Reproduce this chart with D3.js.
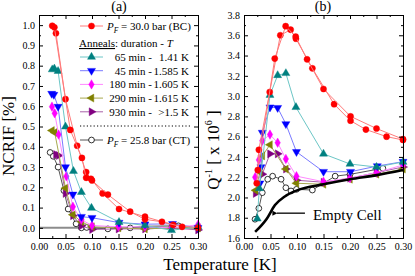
<!DOCTYPE html>
<html>
<head>
<meta charset="utf-8">
<script src="https://cdn.jsdelivr.net/npm/d3@7"></script>
<style>
  body { margin: 0; background: #fff; }
  text { font-family: "Liberation Serif", "DejaVu Serif", serif; fill: #000; }
</style>
</head>
<body>
<div id="chart"></div>
<script>
// Data: [temperature K, value]
// (a) NCRIF [%]
var ncrifBC1 = [[0.025,0.997],[0.032,0.96],[0.050,0.635],[0.072,0.405],[0.089,0.275],[0.098,0.242],[0.12,0.17],[0.151,0.093],[0.20,0.055],[0.253,0.015],[0.30,0.0]];
var ncrifBC2 = [[0.029,0.989],[0.059,0.483],[0.081,0.345],[0.089,0.247],[0.10,0.234],[0.13,0.164],[0.172,0.08],[0.20,0.042],[0.232,0.03],[0.27,0.005]];
var ncrif65  = [[0.025,0.781],[0.029,0.785],[0.036,0.773],[0.050,0.499],[0.065,0.28],[0.08,0.176],[0.099,0.098],[0.151,0.028],[0.20,0.012],[0.25,-0.012],[0.30,0.005]];
var ncrif45  = [[0.024,0.662],[0.028,0.657],[0.036,0.598],[0.050,0.30],[0.064,0.165],[0.08,0.055],[0.10,0.05],[0.151,0.026],[0.20,0.018],[0.252,0.02],[0.30,0.0]];
var ncrif180 = [[0.0245,0.598],[0.0296,0.565],[0.037,0.46],[0.0516,0.254],[0.064,0.104],[0.08,0.04],[0.10,0.012],[0.15,0.005],[0.20,0.005],[0.25,0.0],[0.30,0.015]];
var ncrif290 = [[0.0245,0.48],[0.0296,0.47],[0.05,0.196],[0.064,0.065],[0.08,0.03],[0.10,0.005],[0.15,0.0],[0.20,-0.005],[0.25,0.0],[0.30,0.0]];
var ncrif930 = [[0.032,0.362],[0.037,0.357],[0.05,0.17],[0.064,0.06],[0.08,0.01],[0.10,-0.008],[0.15,-0.005],[0.20,-0.005],[0.25,0.0],[0.30,-0.01]];
var ncrifCT  = [[0.021,0.372],[0.027,0.353],[0.036,0.30],[0.047,0.184],[0.055,0.093],[0.07,0.02],[0.08,0.0],[0.09,0.002],[0.10,0.0],[0.13,-0.005],[0.172,0.0],[0.20,0.008],[0.263,0.01]];

// (b) Q^-1 [x 10^6]
var qBC1 = [[0.024,2.14],[0.028,2.47],[0.0485,3.04],[0.0685,3.60],[0.088,3.655],[0.098,3.566],[0.129,3.274],[0.170,2.92],[0.201,2.757],[0.230,2.67],[0.269,2.60],[0.30,2.567]];
var qBC2 = [[0.026,2.27],[0.058,3.37],[0.0786,3.69],[0.0975,3.586],[0.119,3.363],[0.150,3.07],[0.201,2.80],[0.250,2.68],[0.30,2.575]];
var q65  = [[0.025,1.79],[0.029,2.09],[0.049,3.01],[0.0635,3.205],[0.079,3.225],[0.098,2.89],[0.15,2.43],[0.20,2.33],[0.25,2.30],[0.30,2.35]];
var q45  = [[0.030,2.14],[0.032,2.30],[0.0345,2.64],[0.049,2.89],[0.0635,2.885],[0.079,2.725],[0.099,2.45],[0.15,2.254],[0.201,2.254],[0.2515,2.31],[0.30,2.353]];
var q180 = [[0.021,2.20],[0.028,2.37],[0.0345,2.56],[0.049,2.62],[0.0635,2.54],[0.079,2.38],[0.099,2.21],[0.15,2.155],[0.20,2.19],[0.25,2.245],[0.30,2.32]];
var q290 = [[0.022,2.07],[0.030,2.25],[0.0345,2.41],[0.049,2.52],[0.079,2.28],[0.099,2.14],[0.15,2.13],[0.20,2.18],[0.25,2.23],[0.30,2.28]];
var q930 = [[0.022,2.04],[0.0345,2.23],[0.049,2.43],[0.0635,2.43],[0.079,2.28],[0.099,2.17],[0.15,2.15],[0.20,2.19],[0.25,2.245],[0.30,2.30]];
var qCT  = [[0.0208,1.785],[0.028,1.893],[0.0345,2.047],[0.0447,2.18],[0.054,2.21],[0.07,2.18],[0.079,2.096],[0.0887,2.064],[0.099,2.08],[0.129,2.073],[0.172,2.21],[0.20,2.228],[0.262,2.288]];
var qEmpty = [[0.021,1.66],[0.043,1.79],[0.0585,1.925],[0.077,2.01],[0.10,2.07],[0.15,2.13],[0.20,2.18],[0.25,2.22],[0.30,2.27]];

var xTicks = [0, 0.05, 0.10, 0.15, 0.20, 0.25, 0.30];
var yTicksA = [0, 0.1, 0.2, 0.3, 0.4, 0.5, 0.6, 0.7, 0.8, 0.9, 1.0];
var yTicksB = [1.6, 1.8, 2.0, 2.2, 2.4, 2.6, 2.8, 3.0, 3.2, 3.4, 3.6, 3.8];

var annealDur = ["65 min -", "45 min -", "180 min -", "290 min -", "930 min -"];
var annealT = ["1.41 K", "1.585 K", "1.605 K", "1.615 K", ">1.5 K"];

// styles
var styles = {
  BC:  {fill: "#ff0000", stroke: "#ff0000", line: "#ff7a7a", shape: "circle", rot: 0},
  a65: {fill: "#008080", stroke: "#008080", line: "#6cc6c6", shape: "tri", rot: 0},
  a45: {fill: "#0000ff", stroke: "#0000ff", line: "#7a7aff", shape: "tri", rot: 180},
  a180:{fill: "#ff00ff", stroke: "#ff00ff", line: "#ff88ff", shape: "diamond", rot: 0},
  a290:{fill: "#808000", stroke: "#808000", line: "#a8a850", shape: "tri", rot: -90},
  a930:{fill: "#800080", stroke: "#800080", line: "#a860a8", shape: "tri", rot: 90},
  CT:  {fill: "#ffffff", stroke: "#000000", line: "#555555", shape: "circle", rot: 0}
};

var W = 415, H = 276;
var svg = d3.select("#chart").append("svg").attr("width", W).attr("height", H);

var xA = d3.scaleLinear().domain([0, 0.3]).range([39, 198]);
var yA = d3.scaleLinear().domain([-0.05, 1.05]).range([238, 15]);
var xB = d3.scaleLinear().domain([0, 0.3]).range([244, 403]);
var yB = d3.scaleLinear().domain([1.6, 3.8]).range([238, 15]);

function symPath(st) {
  if (st.shape === "circle") return d3.symbol().type(d3.symbolCircle).size(st.fill === "#ffffff" ? 26 : 30)();
  if (st.shape === "diamond") return d3.symbol().type(d3.symbolDiamond).size(26)();
  return d3.symbol().type(d3.symbolTriangle).size(28)();
}

function frame(x, y, yTicks, yMinor) {
  var g = svg.append("g").attr("font-size", 11);
  var fmtX = d3.format(".2f"), fmtY = d3.format(".1f");
  var xMinor = d3.range(0.025, 0.3, 0.05);
  g.append("g").attr("transform", "translate(0," + y.range()[0] + ")")
    .call(d3.axisBottom(x).tickValues(xTicks).tickFormat(fmtX).tickSizeInner(-4).tickSizeOuter(0).tickPadding(5));
  g.append("g").attr("transform", "translate(0," + y.range()[0] + ")")
    .call(d3.axisBottom(x).tickValues(xMinor).tickFormat("").tickSizeInner(-2).tickSizeOuter(0));
  g.append("g").attr("transform", "translate(0," + y.range()[1] + ")")
    .call(d3.axisTop(x).tickValues(xTicks).tickFormat("").tickSizeInner(-4).tickSizeOuter(0));
  g.append("g").attr("transform", "translate(0," + y.range()[1] + ")")
    .call(d3.axisTop(x).tickValues(xMinor).tickFormat("").tickSizeInner(-2).tickSizeOuter(0));
  g.append("g").attr("transform", "translate(" + x.range()[0] + ",0)")
    .call(d3.axisLeft(y).tickValues(yTicks).tickFormat(fmtY).tickSizeInner(-4).tickSizeOuter(0).tickPadding(4));
  g.append("g").attr("transform", "translate(" + x.range()[0] + ",0)")
    .call(d3.axisLeft(y).tickValues(yMinor).tickFormat("").tickSizeInner(-2).tickSizeOuter(0));
  g.append("g").attr("transform", "translate(" + x.range()[1] + ",0)")
    .call(d3.axisRight(y).tickValues(yTicks).tickFormat("").tickSizeInner(-4).tickSizeOuter(0));
  g.append("g").attr("transform", "translate(" + x.range()[1] + ",0)")
    .call(d3.axisRight(y).tickValues(yMinor).tickFormat("").tickSizeInner(-2).tickSizeOuter(0));
  g.selectAll("text").attr("font-family", "Liberation Serif").attr("fill", "#000");
  g.selectAll(".domain").attr("stroke", "#000").attr("stroke-width", 1);
}

function series(x, y, data, st) {
  var line = d3.line().x(d => x(d[0])).y(d => y(d[1]));
  svg.append("path").attr("d", line(data)).attr("fill", "none")
    .attr("stroke", st.line).attr("stroke-width", 1);
  svg.append("g").selectAll("path").data(data).enter().append("path")
    .attr("d", symPath(st))
    .attr("transform", d => "translate(" + x(d[0]) + "," + y(d[1]) + ") rotate(" + st.rot + ")")
    .attr("fill", st.fill).attr("stroke", st.stroke).attr("stroke-width", st.fill === "#ffffff" ? 0.8 : 0.4);
}

// Panel (a)
svg.append("line").attr("x1", xA(0)).attr("x2", xA(0.3)).attr("y1", yA(0)).attr("y2", yA(0))
  .attr("stroke", "#8c8c8c").attr("stroke-width", 2);
series(xA, yA, ncrifCT, styles.CT);
series(xA, yA, ncrif930, styles.a930);
series(xA, yA, ncrif290, styles.a290);
series(xA, yA, ncrif180, styles.a180);
series(xA, yA, ncrif45, styles.a45);
series(xA, yA, ncrif65, styles.a65);
series(xA, yA, ncrifBC1, styles.BC);
series(xA, yA, ncrifBC2, styles.BC);
frame(xA, yA, yTicksA, d3.range(-0.05, 1.06, 0.1));

// Panel (b)
series(xB, yB, qCT, styles.CT);
series(xB, yB, q930, styles.a930);
series(xB, yB, q290, styles.a290);
series(xB, yB, q180, styles.a180);
series(xB, yB, q45, styles.a45);
series(xB, yB, q65, styles.a65);
series(xB, yB, qBC1, styles.BC);
series(xB, yB, qBC2, styles.BC);
svg.append("path")
  .attr("d", d3.line().curve(d3.curveMonotoneX).x(d => xB(d[0])).y(d => yB(d[1]))(qEmpty))
  .attr("fill", "none").attr("stroke", "#000").attr("stroke-width", 2.6);
frame(xB, yB, yTicksB, d3.range(1.7, 3.8, 0.2));

// Empty cell arrow + label
svg.append("defs").append("marker").attr("id", "ah").attr("viewBox", "0 0 10 10")
  .attr("refX", 1).attr("refY", 5).attr("markerWidth", 7).attr("markerHeight", 5)
  .attr("markerUnits", "userSpaceOnUse").attr("orient", "auto")
  .append("path").attr("d", "M10,0 L0,5 L10,10 Z").attr("fill", "#000");
svg.append("line").attr("x1", xB(0.115)).attr("x2", xB(0.062)).attr("y1", yB(1.845)).attr("y2", yB(1.845))
  .attr("stroke", "#000").attr("stroke-width", 1.3).attr("marker-end", "url(#ah)");
svg.append("text").attr("x", xB(0.130)).attr("y", yB(1.78)).attr("font-size", 15).text("Empty Cell");

// Legend in panel (a)
var leg = svg.append("g").attr("font-size", 11);
function legSample(cy, st) {
  leg.append("line").attr("x1", 80).attr("x2", 103).attr("y1", cy).attr("y2", cy)
    .attr("stroke", st.line).attr("stroke-width", 1);
  leg.append("path").attr("d", symPath(st))
    .attr("transform", "translate(91.5," + cy + ") rotate(" + st.rot + ")")
    .attr("fill", st.fill).attr("stroke", st.stroke).attr("stroke-width", st.fill === "#ffffff" ? 0.8 : 0.4);
}
function pfText(cy, rest) {
  var t = leg.append("text").attr("x", 107).attr("y", cy + 4);
  t.append("tspan").attr("font-style", "italic").text("P");
  t.append("tspan").attr("font-size", 7.5).attr("font-style", "italic").attr("dy", 3).text("F");
  t.append("tspan").attr("dy", -3).text(" = " + rest);
}
legSample(26, styles.BC);
pfText(26, "30.0 bar (BC)");
var an = leg.append("text").attr("x", 79).attr("y", 47);
an.append("tspan").attr("text-decoration", "underline").text("Anneals");
an.append("tspan").text(": duration -  ");
an.append("tspan").attr("font-style", "italic").text("T");
var annealStyles = [styles.a65, styles.a45, styles.a180, styles.a290, styles.a930];
annealStyles.forEach(function (st, i) {
  var cy = 57 + i * 13.7;
  legSample(cy, st);
  leg.append("text").attr("x", 152).attr("y", cy + 4).attr("text-anchor", "end").text(annealDur[i]);
  leg.append("text").attr("x", 189).attr("y", cy + 4).attr("text-anchor", "end").text(annealT[i]);
});
leg.append("line").attr("x1", 80).attr("x2", 190).attr("y1", 126).attr("y2", 126)
  .attr("stroke", "#000").attr("stroke-width", 1).attr("stroke-dasharray", "1.2,2.2");
legSample(140, styles.CT);
pfText(140, "25.8 bar (CT)");

// Titles and axis labels
svg.append("text").attr("x", 119).attr("y", 11).attr("text-anchor", "middle").attr("font-size", 14).text("(a)");
svg.append("text").attr("x", 323).attr("y", 11).attr("text-anchor", "middle").attr("font-size", 14).text("(b)");
svg.append("text").attr("x", 220).attr("y", 270).attr("text-anchor", "middle").attr("font-size", 17).text("Temperature [K]");
svg.append("text").attr("transform", "translate(14,136) rotate(-90)").attr("text-anchor", "middle")
  .attr("font-size", 17).text("NCRIF [%]");
var ql = svg.append("text").attr("transform", "translate(219,150) rotate(-90)").attr("text-anchor", "middle").attr("font-size", 17);
ql.append("tspan").text("Q");
ql.append("tspan").attr("font-size", 10).attr("dy", -7).text("-1");
ql.append("tspan").attr("dy", 7).text(" [ x 10");
ql.append("tspan").attr("font-size", 10).attr("dy", -7).text("6");
ql.append("tspan").attr("dy", 7).text(" ]");
</script>
</body>
</html>
